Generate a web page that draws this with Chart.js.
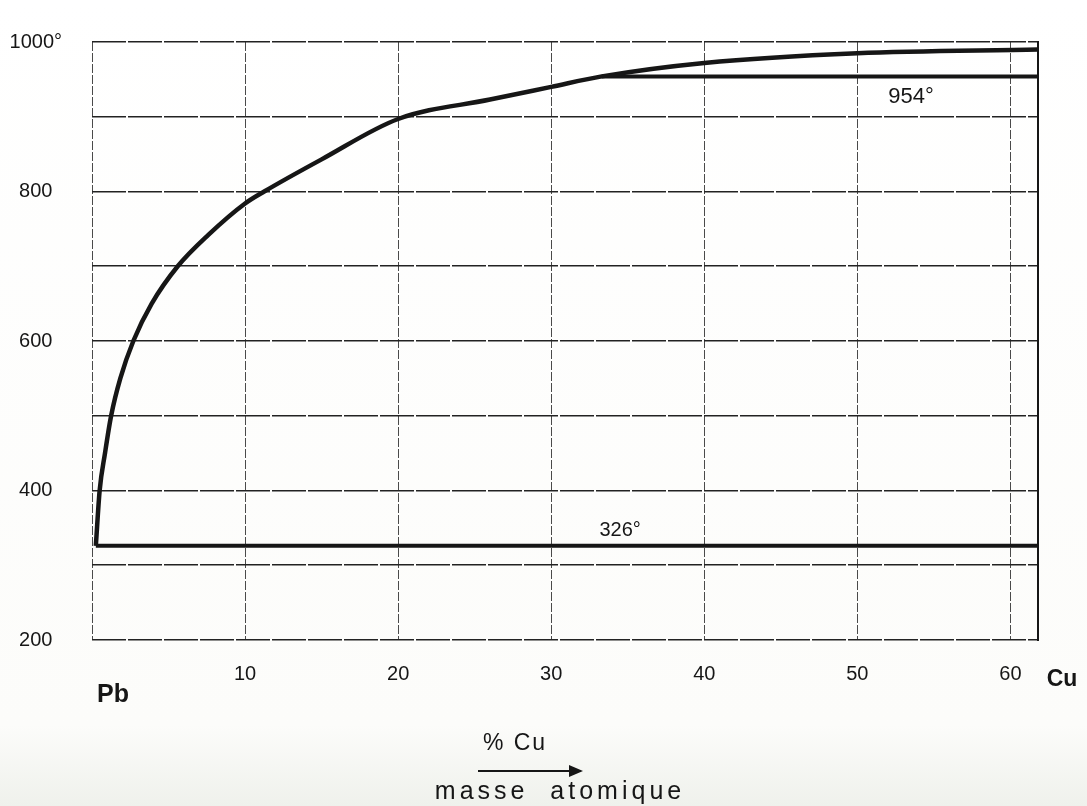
<!DOCTYPE html>
<html>
<head>
<meta charset="utf-8">
<script src="https://cdn.jsdelivr.net/npm/chart.js@4.4.1/dist/chart.umd.min.js"></script>
<style>
  html, body { margin: 0; padding: 0; background: #fff; }
</style>
</head>
<body>
<canvas id="chart" width="1087" height="806"></canvas>
<script>
// Pb-Cu diagram, values
const liquidusX = [0.25, 0.5, 0.85, 1.25, 1.85, 2.7, 3.9, 5.6, 7.6, 10, 11.25, 15, 20, 26, 30, 33.3, 40, 50, 61.8];
const liquidusY = [326, 400, 450, 500, 550, 600, 650, 700, 742, 784, 800, 843, 897, 923, 940, 954, 972, 985, 990];

const monotecticX = [33.3, 61.8];
const monotecticY = [954, 954];

const eutecticX = [0.25, 61.8];
const eutecticY = [326, 326];

const xTicks = [0, 10, 20, 30, 40, 50, 60];
const yTicks = [200, 300, 400, 500, 600, 700, 800, 900, 1000];
const X_MAX = 61.8;

const INK = '#161616';
const FONT = '"Liberation Sans", "DejaVu Sans", sans-serif';

const toPoints = (xs, ys) => xs.map((x, i) => ({ x: x, y: ys[i] }));

/**
 * Texts written on the drawing (temperatures, Pb / Cu, axis caption)
 */
const sketchText = {
    id: 'sketchText',
    beforeDraw(chart) {
        const { ctx, width, height } = chart;
        ctx.save();
        const g = ctx.createLinearGradient(0, 0, 0, height);
        g.addColorStop(0, '#ffffff');
        g.addColorStop(0.9, '#fcfcfa');
        g.addColorStop(1, '#eff1ec');
        ctx.fillStyle = g;
        ctx.fillRect(0, 0, width, height);
        ctx.restore();
    },
    afterDraw(chart) {
        const { ctx, chartArea, scales: { x, y } } = chart;
        ctx.save();
        ctx.fillStyle = INK;
        ctx.textAlign = 'center';
        ctx.textBaseline = 'middle';

        // temperature marks
        ctx.font = `22px ${FONT}`;
        ctx.fillText('954°', x.getPixelForValue(53.5), y.getPixelForValue(926));
        ctx.font = `20px ${FONT}`;
        ctx.fillText('326°', x.getPixelForValue(34.5), y.getPixelForValue(347));

        // components
        ctx.font = `bold 25px ${FONT}`;
        ctx.fillText('Pb', x.getPixelForValue(0) + 21, chartArea.bottom + 55);
        ctx.font = `bold 23px ${FONT}`;
        ctx.fillText('Cu', x.getPixelForValue(X_MAX) + 24, chartArea.bottom + 40);

        // axis caption
        const cx = (chartArea.left + chartArea.right) / 2;
        ctx.font = `23px ${FONT}`;
        ctx.letterSpacing = '2px';
        ctx.fillText('% Cu', cx - 50, chartArea.bottom + 104);

        const ay = chartArea.bottom + 131;
        ctx.strokeStyle = INK;
        ctx.lineWidth = 2;
        ctx.beginPath();
        ctx.moveTo(cx - 87, ay);
        ctx.lineTo(cx + 16, ay);
        ctx.stroke();
        ctx.beginPath();
        ctx.moveTo(cx + 18, ay);
        ctx.lineTo(cx + 4, ay - 6);
        ctx.lineTo(cx + 4, ay + 6);
        ctx.closePath();
        ctx.fill();

        ctx.font = `25px ${FONT}`;
        ctx.letterSpacing = '4px';
        ctx.fillText('masse  atomique', cx - 5, chartArea.bottom + 152);
        ctx.restore();
    }
};

new Chart(document.getElementById('chart').getContext('2d'), {
    type: 'scatter',
    plugins: [sketchText],
    data: {
        datasets: [
            {
                label: 'liquidus',
                data: toPoints(liquidusX, liquidusY),
                showLine: true,
                borderColor: INK,
                borderWidth: 4.5,
                pointRadius: 0,
                cubicInterpolationMode: 'monotone'
            },
            {
                label: '954',
                data: toPoints(monotecticX, monotecticY),
                showLine: true,
                borderColor: INK,
                borderWidth: 4,
                pointRadius: 0
            },
            {
                label: '326',
                data: toPoints(eutecticX, eutecticY),
                showLine: true,
                borderColor: INK,
                borderWidth: 4,
                pointRadius: 0
            }
        ]
    },
    options: {
        responsive: false,
        animation: false,
        layout: { padding: { top: 34, right: 49, left: 0, bottom: 0 } },
        plugins: {
            legend: { display: false },
            tooltip: { enabled: false }
        },
        scales: {
            x: {
                type: 'linear',
                min: 0,
                max: X_MAX,
                afterBuildTicks: (s) => { s.ticks = xTicks.map(v => ({ value: v })); },
                afterFit: (s) => { s.height = 166; },
                grid: { color: '#4a4a4a', lineWidth: 1, drawTicks: false },
                border: { display: false, dash: [9, 2] },
                ticks: {
                    autoSkip: false,
                    maxRotation: 0,
                    padding: 22,
                    color: INK,
                    font: { family: FONT, size: 20 },
                    callback: (v) => (v === 0 ? '' : String(v))
                }
            },
            y: {
                min: 200,
                max: 1000,
                afterBuildTicks: (s) => { s.ticks = yTicks.map(v => ({ value: v })); },
                afterFit: (s) => { s.width = 92; },
                grid: { color: '#222222', lineWidth: 1.6, drawTicks: false },
                border: { display: false, dash: [34, 2] },
                ticks: {
                    padding: 30,
                    crossAlign: 'center',
                    color: INK,
                    font: { family: FONT, size: 20 },
                    callback: (v) => {
                        if (v === 1000) return '1000°';
                        return v % 200 === 0 ? String(v) : '';
                    }
                }
            },
            yRight: {
                position: 'right',
                min: 200,
                max: 1000,
                afterFit: (s) => { s.width = 0; },
                grid: { display: false, drawTicks: false },
                ticks: { display: false },
                border: { display: true, color: INK, width: 2 }
            }
        }
    }
});
</script>
</body>
</html>
